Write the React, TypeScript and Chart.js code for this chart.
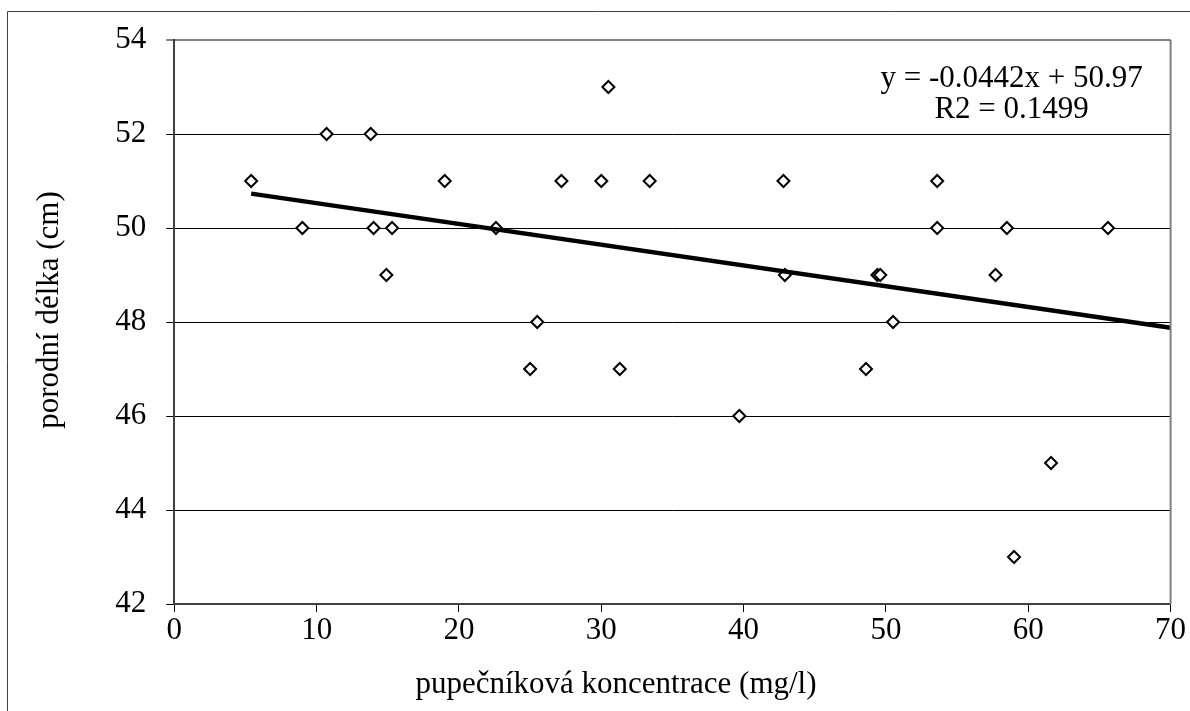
import { useEffect, useRef } from "react";
import { Chart, registerables } from "chart.js";

Chart.register(...registerables);

// pupečníková koncentrace (mg/l)
const concentration = [
  5.4, 9.0, 10.7, 13.8, 14.0, 15.3, 14.9, 19.0, 22.6, 25.0,
  25.5, 27.2, 30.0, 30.5, 31.3, 33.4, 39.7, 42.8, 42.9, 48.6,
  49.4, 49.6, 50.5, 53.6, 53.6, 57.7, 58.5, 59.0, 61.6, 65.6,
];
// porodní délka (cm)
const birthLength = [
  51, 50, 52, 52, 50, 50, 49, 51, 50, 47,
  48, 51, 51, 53, 47, 51, 46, 51, 49, 47,
  49, 49, 48, 51, 50, 49, 50, 43, 45, 50,
];

const trendSlope = -0.0442;
const trendIntercept = 50.97;
const trendR2 = 0.1499;

const xTickValues = [0, 10, 20, 30, 40, 50, 60, 70];
const yTickValues = [42, 44, 46, 48, 50, 52, 54];

const xTitle = "pupečníková koncentrace (mg/l)";
const yTitle = "porodní délka (cm)";

const FONT = '"Liberation Serif", "Times New Roman", serif';
const FONT_SIZE = 31;

export default function App() {
  const ref = useRef<HTMLCanvasElement | null>(null);

  useEffect(() => {
    if (!ref.current) return;
    const points = concentration.map((x, i) => ({ x, y: birthLength[i] }));
    const xMin = Math.min(...concentration);
    const xMax = xTickValues[xTickValues.length - 1];
    const trend = [
      { x: xMin, y: trendSlope * xMin + trendIntercept },
      { x: xMax, y: trendSlope * xMax + trendIntercept },
    ];

    const overlay = {
      id: "overlay",
      beforeDraw(chart: any) {
        const ctx = chart.ctx;
        ctx.save();
        ctx.strokeStyle = "#404040";
        ctx.lineWidth = 1;
        ctx.beginPath();
        ctx.moveTo(7.5, 711);
        ctx.lineTo(7.5, 11.5);
        ctx.lineTo(1190, 11.5);
        ctx.stroke();
        ctx.restore();
      },
      afterDraw(chart: any) {
        const ctx = chart.ctx;
        const a = chart.chartArea;
        ctx.save();
        // right border of plot area
        ctx.strokeStyle = "#808080";
        ctx.lineWidth = 2;
        ctx.beginPath();
        ctx.moveTo(a.right, a.top);
        ctx.lineTo(a.right, a.bottom);
        ctx.stroke();

        ctx.fillStyle = "#000";
        ctx.font = `${FONT_SIZE}px ${FONT}`;
        ctx.textAlign = "center";
        ctx.textBaseline = "alphabetic";
        // trendline equation
        const ex = a.right - 159;
        ctx.fillText(`y = ${trendSlope}x + ${trendIntercept}`, ex, a.top + 47);
        ctx.fillText(`R2 = ${trendR2}`, ex, a.top + 78);
        // x title
        ctx.fillText(xTitle, 616, 693);
        // y title
        ctx.translate(58, 310);
        ctx.rotate(-Math.PI / 2);
        ctx.fillText(yTitle, 0, 0);
        ctx.restore();
      },
    };

    const chart = new Chart(ref.current, {
      type: "scatter",
      data: {
        datasets: [
          {
            type: "line",
            data: trend,
            borderColor: "#000",
            borderWidth: 4.5,
            pointRadius: 0,
            fill: false,
          } as any,
          {
            data: points,
            pointStyle: "rectRot",
            pointRadius: 6,
            pointBackgroundColor: "#fff",
            pointBorderColor: "#000",
            pointBorderWidth: 2,
            showLine: false,
          },
        ],
      },
      options: {
        animation: false,
        responsive: true,
        maintainAspectRatio: false,
        layout: { padding: { top: 40, right: 19.4, left: 0, bottom: 0 } },
        plugins: { legend: { display: false }, tooltip: { enabled: false } },
        scales: {
          x: {
            type: "linear",
            min: xTickValues[0],
            max: xMax,
            afterBuildTicks: (s: any) => {
              s.ticks = xTickValues.map((v) => ({ value: v }));
            },
            afterFit: (s: any) => {
              s.height = 107;
            },
            ticks: {
              font: { family: FONT, size: FONT_SIZE },
              color: "#000",
              padding: 0,
            },
            grid: {
              drawOnChartArea: false,
              drawTicks: true,
              tickLength: 8,
              tickColor: "#000",
              tickWidth: 1,
            },
            border: { color: "#404040", width: 2 },
          },
          y: {
            type: "linear",
            min: yTickValues[0],
            max: yTickValues[yTickValues.length - 1],
            afterBuildTicks: (s: any) => {
              s.ticks = yTickValues.map((v) => ({ value: v }));
            },
            afterFit: (s: any) => {
              s.width = 174.3;
            },
            ticks: {
              font: { family: FONT, size: FONT_SIZE },
              color: "#000",
              padding: 20,
            },
            grid: {
              color: (c: any) => (c.tick && c.tick.value === 54 ? "#808080" : "#000"),
              lineWidth: (c: any) => (c.tick && c.tick.value === 54 ? 2 : 1),
              tickLength: 8,
              tickColor: "#000",
              tickWidth: 1,
            },
            border: { color: "#404040", width: 2 },
          },
        },
      },
      plugins: [overlay],
    });
    return () => chart.destroy();
  }, []);

  return (
    <div style={{ position: "fixed", left: 0, top: 0, width: 1190, height: 711, background: "#fff" }}>
      <canvas ref={ref} />
    </div>
  );
}
